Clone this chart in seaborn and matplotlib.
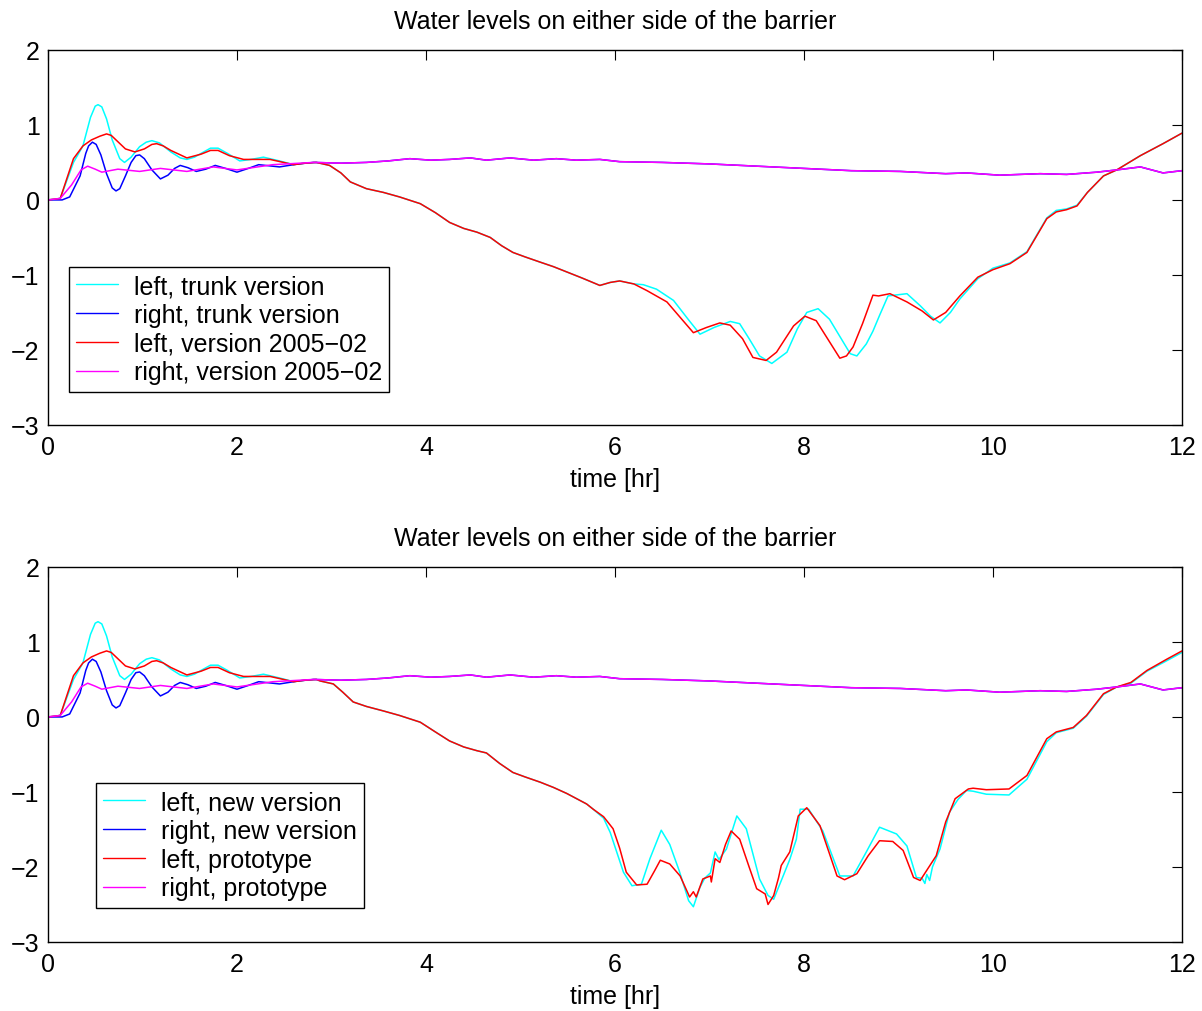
import matplotlib
matplotlib.use("Agg")
import matplotlib.pyplot as plt
import numpy as np
import seaborn as sns

# ---------------- data ----------------
# shared early part (0 - 2.84 h)
t_left_new_early = [0, 0.13, 0.27, 0.37, 0.45, 0.50, 0.53, 0.57, 0.62, 0.68, 0.76, 0.81, 0.88, 0.97,
                    1.04, 1.10, 1.18, 1.30, 1.40, 1.47, 1.55, 1.62, 1.72, 1.80, 1.90, 2.03, 2.15,
                    2.28, 2.45, 2.60, 2.72, 2.84]
y_left_new_early = [0, 0.02, 0.50, 0.72, 1.10, 1.25, 1.27, 1.24, 1.08, 0.80, 0.55, 0.50, 0.57, 0.71,
                    0.77, 0.79, 0.76, 0.64, 0.56, 0.54, 0.57, 0.62, 0.69, 0.69, 0.62, 0.52, 0.54,
                    0.57, 0.52, 0.47, 0.49, 0.50]

t_left_old_early = [0, 0.13, 0.27, 0.37, 0.46, 0.55, 0.62, 0.67, 0.72, 0.82, 0.92, 1.02, 1.10, 1.15,
                    1.22, 1.30, 1.47, 1.62, 1.72, 1.80, 1.92, 2.07, 2.35, 2.60, 2.72, 2.84]
y_left_old_early = [0, 0.02, 0.55, 0.72, 0.80, 0.85, 0.88, 0.86, 0.80, 0.68, 0.64, 0.68, 0.74, 0.75,
                    0.72, 0.66, 0.56, 0.61, 0.66, 0.66, 0.59, 0.54, 0.54, 0.47, 0.49, 0.50]

t_right_new_early = [0, 0.15, 0.23, 0.34, 0.40, 0.43, 0.47, 0.51, 0.56, 0.62, 0.68, 0.72, 0.76, 0.82,
                     0.88, 0.93, 0.97, 1.02, 1.10, 1.19, 1.27, 1.34, 1.40, 1.48, 1.57, 1.67, 1.77,
                     1.88, 2.00, 2.12, 2.23, 2.45, 2.65, 2.81]
y_right_new_early = [0, 0.0, 0.04, 0.32, 0.62, 0.72, 0.77, 0.74, 0.60, 0.35, 0.16, 0.12, 0.15, 0.32,
                     0.50, 0.59, 0.60, 0.55, 0.40, 0.28, 0.33, 0.42, 0.46, 0.43, 0.38, 0.41, 0.46,
                     0.42, 0.37, 0.42, 0.47, 0.44, 0.48, 0.50]

t_right_old_early = [0, 0.13, 0.25, 0.35, 0.42, 0.50, 0.57, 0.74, 0.97, 1.19, 1.47, 1.75, 2.00, 2.38, 2.81]
y_right_old_early = [0, 0.02, 0.20, 0.40, 0.45, 0.41, 0.37, 0.41, 0.38, 0.42, 0.38, 0.44, 0.40, 0.47, 0.50]

# right side after 2.81 h (both versions practically identical)
t_right_tail = [3.10, 3.37, 3.60, 3.83, 4.05, 4.25, 4.47, 4.64, 4.89, 5.14, 5.38, 5.59, 5.84, 6.05,
                6.50, 7.00, 7.50, 8.00, 8.50, 9.02, 9.50, 9.72, 10.07, 10.50, 10.78, 11.10, 11.31,
                11.56, 11.80, 12.00]
y_right_tail = [0.49, 0.50, 0.52, 0.55, 0.53, 0.54, 0.56, 0.53, 0.56, 0.53, 0.55, 0.53, 0.54, 0.51,
                0.50, 0.48, 0.45, 0.42, 0.39, 0.38, 0.35, 0.36, 0.33, 0.35, 0.34, 0.37, 0.40,
                0.44, 0.36, 0.39]

# top panel: left side, trunk version (cyan) and version 2005-02 (red)
t_top_decline = [2.98, 3.10, 3.20, 3.37, 3.55, 3.72, 3.94, 4.10, 4.25, 4.40, 4.54, 4.68, 4.80, 4.92,
                 5.05, 5.21, 5.35, 5.49, 5.65, 5.84, 5.95, 6.05]
y_top_decline = [0.46, 0.36, 0.24, 0.15, 0.10, 0.04, -0.05, -0.17, -0.30, -0.38, -0.43, -0.50, -0.61,
                 -0.70, -0.76, -0.83, -0.89, -0.96, -1.04, -1.14, -1.10, -1.08]

t_top_trunk_mid = [6.20, 6.30, 6.44, 6.62, 6.78, 6.90, 7.05, 7.22, 7.32, 7.42, 7.53, 7.66, 7.82, 7.93,
                   8.03, 8.15, 8.27, 8.38, 8.49, 8.56, 8.66, 8.73, 8.80, 8.89, 9.09, 9.23, 9.34,
                   9.44, 9.55, 9.65, 9.84]
y_top_trunk_mid = [-1.12, -1.13, -1.19, -1.34, -1.60, -1.79, -1.70, -1.62, -1.65, -1.85, -2.08, -2.18,
                   -2.03, -1.72, -1.50, -1.45, -1.59, -1.82, -2.05, -2.08, -1.92, -1.75, -1.54,
                   -1.28, -1.25, -1.41, -1.55, -1.64, -1.50, -1.32, -1.05]

t_top_0502_mid = [6.20, 6.34, 6.55, 6.70, 6.83, 6.97, 7.11, 7.22, 7.35, 7.46, 7.60, 7.71, 7.89, 8.01,
                  8.13, 8.25, 8.38, 8.45, 8.52, 8.62, 8.73, 8.79, 8.91, 9.09, 9.25, 9.37, 9.50,
                  9.65, 9.84]
y_top_0502_mid = [-1.12, -1.21, -1.36, -1.58, -1.77, -1.70, -1.64, -1.67, -1.85, -2.10, -2.14, -2.03,
                  -1.68, -1.55, -1.61, -1.85, -2.11, -2.08, -1.96, -1.65, -1.27, -1.28, -1.25,
                  -1.36, -1.48, -1.60, -1.50, -1.28, -1.03]

t_top_tail = [10.00, 10.18, 10.36, 10.57, 10.67, 10.78, 10.89, 11.00, 11.17, 11.31, 11.56, 11.80, 12.00]
y_top_trunk_tail = [-0.91, -0.84, -0.69, -0.24, -0.14, -0.12, -0.07, 0.10, 0.32, 0.40, 0.59, 0.75, 0.89]
y_top_0502_tail = [-0.93, -0.85, -0.70, -0.25, -0.16, -0.13, -0.08, 0.10, 0.32, 0.40, 0.59, 0.75, 0.89]

# bottom panel: left side, new version (cyan) and prototype (red)
t_bot_decline = [2.88, 3.02, 3.12, 3.23, 3.37, 3.55, 3.72, 3.94, 4.10, 4.25, 4.40, 4.54, 4.64, 4.78,
                 4.92, 5.05, 5.21, 5.35, 5.49, 5.70, 5.77]
y_bot_decline = [0.48, 0.44, 0.33, 0.20, 0.14, 0.08, 0.02, -0.07, -0.20, -0.32, -0.40, -0.45, -0.48,
                 -0.62, -0.74, -0.80, -0.87, -0.94, -1.02, -1.16, -1.23]

t_bot_new_mid = [5.88, 5.95, 6.09, 6.18, 6.28, 6.37, 6.49, 6.58, 6.68, 6.78, 6.83, 6.90, 6.95, 7.01,
                 7.06, 7.10, 7.18, 7.29, 7.39, 7.53, 7.62, 7.68, 7.78, 7.85, 7.92, 7.96, 8.05,
                 8.20, 8.38, 8.52, 8.66, 8.80, 8.98, 9.09, 9.19, 9.25, 9.28, 9.30, 9.33, 9.36,
                 9.44, 9.54, 9.63, 9.72]
y_bot_new_mid = [-1.35, -1.54, -2.07, -2.25, -2.23, -1.89, -1.51, -1.70, -2.05, -2.45, -2.53, -2.27,
                 -2.15, -2.08, -1.80, -1.90, -1.76, -1.32, -1.49, -2.16, -2.38, -2.43, -2.12,
                 -1.90, -1.63, -1.23, -1.23, -1.52, -2.12, -2.12, -1.80, -1.47, -1.56, -1.72,
                 -2.14, -2.15, -2.22, -2.10, -2.18, -2.00, -1.76, -1.27, -1.10, -0.98]

t_bot_proto_mid = [5.88, 5.98, 6.05, 6.12, 6.23, 6.34, 6.42, 6.48, 6.58, 6.69, 6.79, 6.83, 6.86, 6.93,
                   7.01, 7.02, 7.06, 7.11, 7.17, 7.23, 7.32, 7.42, 7.50, 7.59, 7.62, 7.68, 7.73,
                   7.76, 7.85, 7.94, 8.03, 8.17, 8.35, 8.43, 8.56, 8.68, 8.80, 8.94, 9.05, 9.16,
                   9.23, 9.40, 9.50, 9.60, 9.74]
y_bot_proto_mid = [-1.33, -1.49, -1.75, -2.07, -2.24, -2.23, -2.05, -1.91, -1.96, -2.12, -2.40, -2.33,
                   -2.40, -2.16, -2.12, -2.20, -1.89, -1.94, -1.70, -1.52, -1.63, -2.00, -2.29,
                   -2.36, -2.50, -2.38, -2.15, -1.98, -1.80, -1.32, -1.21, -1.45, -2.12, -2.17,
                   -2.09, -1.85, -1.65, -1.66, -1.78, -2.14, -2.18, -1.85, -1.40, -1.09, -0.96]

t_bot_tail = [9.79, 9.93, 10.17, 10.36, 10.57, 10.67, 10.85, 10.99, 11.17, 11.31, 11.46, 11.63, 11.84, 12.00]
y_bot_new_tail = [-0.99, -1.03, -1.04, -0.83, -0.33, -0.21, -0.15, 0.01, 0.30, 0.40, 0.45, 0.61, 0.75, 0.86]
y_bot_proto_tail = [-0.95, -0.97, -0.96, -0.78, -0.29, -0.20, -0.14, 0.02, 0.31, 0.40, 0.46, 0.62, 0.77, 0.88]

title = "Water levels on either side of the barrier"
xlabel = "time [hr]"
top_labels = ["left, trunk version", "right, trunk version",
              "left, version 2005\u221202", "right, version 2005\u221202"]
bottom_labels = ["left, new version", "right, new version",
                 "left, prototype", "right, prototype"]
colors = ["#00ffff", "#0000ff", "#ff0000", "#ff00ff"]

# ---------------- series assembly ----------------
top_series = [
    (t_left_new_early + t_top_decline + t_top_trunk_mid + t_top_tail,
     y_left_new_early + y_top_decline + y_top_trunk_mid + y_top_trunk_tail),
    (t_right_new_early + t_right_tail, y_right_new_early + y_right_tail),
    (t_left_old_early + t_top_decline + t_top_0502_mid + t_top_tail,
     y_left_old_early + y_top_decline + y_top_0502_mid + y_top_0502_tail),
    (t_right_old_early + t_right_tail, y_right_old_early + y_right_tail),
]
bottom_series = [
    (t_left_new_early + t_bot_decline + t_bot_new_mid + t_bot_tail,
     y_left_new_early + y_bot_decline + y_bot_new_mid + y_bot_new_tail),
    (t_right_new_early + t_right_tail, y_right_new_early + y_right_tail),
    (t_left_old_early + t_bot_decline + t_bot_proto_mid + t_bot_tail,
     y_left_old_early + y_bot_decline + y_bot_proto_mid + y_bot_proto_tail),
    (t_right_old_early + t_right_tail, y_right_old_early + y_right_tail),
]

# ---------------- style ----------------
sns.set_theme(style="white")
plt.rcParams["font.family"] = ["Liberation Sans", "DejaVu Sans"]
plt.rcParams.update({
    "axes.edgecolor": "black",
    "axes.linewidth": 1.0,
    "xtick.color": "black",
    "ytick.color": "black",
    "text.color": "black",
    "axes.labelcolor": "black",
})

fig = plt.figure(figsize=(12.02, 10.12), dpi=100)
ax_top = fig.add_axes([0.0399, 0.5791, 0.9434, 0.3706])
ax_bot = fig.add_axes([0.0399, 0.0682, 0.9434, 0.3706])


def draw(ax, series, labels, anchor):
    for (t, y), c, lab in zip(series, colors, labels):
        sns.lineplot(x=t, y=y, color=c, linewidth=1.1, ax=ax, label=lab,
                     estimator=None, sort=False)
    ax.set_xlim(0, 12)
    ax.set_ylim(-3, 2)
    ax.set_xticks(range(0, 13, 2))
    ax.set_yticks(range(-3, 3))
    ax.tick_params(direction="in", top=True, right=True, length=7, width=0.8,
                   labelsize=18, pad=7)
    ax.tick_params(axis="y", pad=6)
    ax.set_title(title, fontsize=18, pad=16)
    ax.set_xlabel(xlabel, fontsize=18, labelpad=6)
    ax.set_ylabel("")
    for s in ax.spines.values():
        s.set_visible(True)
        s.set_color("black")
    leg = ax.legend(loc="lower left", bbox_to_anchor=anchor, frameon=True, fancybox=False,
                    edgecolor="black", framealpha=1, fontsize=18, handlelength=1.65,
                    handletextpad=0.64, labelspacing=0.19, borderaxespad=0, borderpad=0.3)
    leg.get_frame().set_linewidth(1.0)
    for line in leg.get_lines():
        line.set_linewidth(1.0)


draw(ax_top, top_series, top_labels, (0.0185, 0.088))
draw(ax_bot, bottom_series, bottom_labels, (0.0423, 0.0907))

fig.savefig("out.png", dpi=100)
